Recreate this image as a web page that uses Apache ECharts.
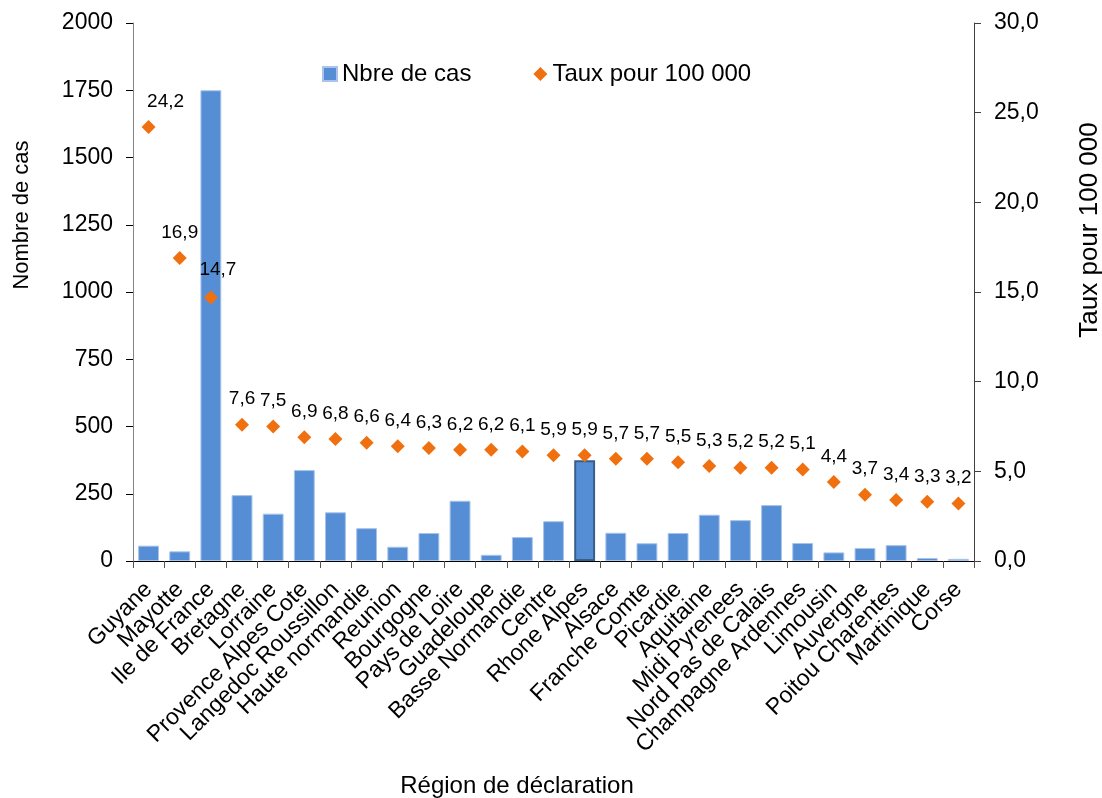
<!DOCTYPE html>
<html>
<head>
<meta charset="utf-8">
<script src="https://cdn.jsdelivr.net/npm/echarts@6/dist/echarts.min.js"></script>
<style>
html,body{margin:0;padding:0;background:#fff;}
#chart{width:1102px;height:798px;}
</style>
</head>
<body>
<div id="chart"></div>
<script>
const categories = ['Guyane','Mayotte','Ile de France','Bretagne','Lorraine','Provence Alpes Cote','Langedoc Roussillon','Haute normandie','Reunion','Bourgogne','Pays de Loire','Guadeloupe','Basse Normandie','Centre','Rhone Alpes','Alsace','Franche Comte','Picardie','Aquitaine','Midi Pyrenees','Nord Pas de Calais','Champagne Ardennes','Limousin','Auvergne','Poitou Charentes','Martinique','Corse'];
const cases = [57,36,1750,245,176,338,181,122,53,104,224,23,89,148,375,105,66,104,172,152,208,67,32,48,59,11,8];
const rates = [24.2,16.9,14.7,7.6,7.5,6.9,6.8,6.6,6.4,6.3,6.2,6.2,6.1,5.9,5.9,5.7,5.7,5.5,5.3,5.2,5.2,5.1,4.4,3.7,3.4,3.3,3.2];
const leftTicks = {min:0, max:2000, interval:250};
const rightTicks = {min:0, max:30, interval:5};
const highlighted = 'Rhone Alpes';

const FONT = '"Liberation Sans", Arial, sans-serif';
const fmt = v => Number(v).toFixed(1).replace('.', ',');

const barData = cases.map((v, i) => categories[i] === highlighted
  ? {value: v, itemStyle: {borderColor: '#3A5E8C', borderWidth: 2}}
  : v);
const rateData = rates.map((v, i) => {
  if (i === 0) return {value: v, label: {offset: [17, 0]}};
  if (i === 2) return {value: v, label: {offset: [7, -2]}};
  return v;
});

const chart = echarts.init(document.getElementById('chart'), null, {renderer: 'canvas'});
chart.setOption({
  animation: false,
  textStyle: {fontFamily: FONT},
  legend: {
    left: 317, top: 57,
    itemWidth: 14, itemHeight: 14, itemGap: 62,
    textStyle: {fontFamily: FONT, fontSize: 24, color: '#000'},
    data: [{name: 'Nbre de cas', icon: 'rect'}, {name: 'Taux pour 100 000', icon: 'diamond'}]
  },
  grid: {left: 133, right: 128, top: 23, bottom: 237, containLabel: false},
  xAxis: {
    type: 'category',
    data: categories,
    axisLine: {lineStyle: {color: '#000', width: 1}},
    axisTick: {show: true, length: 7, lineStyle: {color: '#555'}},
    axisLabel: {rotate: 45, margin: 25, interval: 0, fontFamily: FONT, fontSize: 23, color: '#000'}
  },
  yAxis: [
    {
      type: 'value', position: 'left',
      min: leftTicks.min, max: leftTicks.max, interval: leftTicks.interval,
      splitLine: {show: false},
      axisLine: {show: true, lineStyle: {color: '#868686'}},
      axisTick: {show: true, length: 7, lineStyle: {color: '#000'}},
      axisLabel: {margin: 20, fontFamily: FONT, fontSize: 23, color: '#000', formatter: v => String(v)}
    },
    {
      type: 'value', position: 'right',
      min: rightTicks.min, max: rightTicks.max, interval: rightTicks.interval,
      splitLine: {show: false},
      axisLine: {show: true, lineStyle: {color: '#404040'}},
      axisTick: {show: true, length: 7, lineStyle: {color: '#404040'}},
      axisLabel: {margin: 20, fontFamily: FONT, fontSize: 23, color: '#000', formatter: fmt}
    }
  ],
  series: [
    {
      name: 'Nbre de cas', type: 'bar', yAxisIndex: 0,
      data: barData,
      barCategoryGap: '33%',
      itemStyle: {color: '#558ED5', borderColor: '#A9C4EB', borderWidth: 1}
    },
    {
      name: 'Taux pour 100 000', type: 'scatter', yAxisIndex: 1,
      data: rateData,
      symbol: 'diamond', symbolSize: 14,
      itemStyle: {color: '#F07010', opacity: 1},
      label: {show: true, position: 'top', distance: 9, fontFamily: FONT, fontSize: 19, color: '#000', formatter: p => fmt(p.value)}
    }
  ],
  graphic: [
    {type: 'text', x: 22, y: 215, rotation: Math.PI / 2,
     style: {text: 'Nombre de cas', font: '22px ' + FONT, fill: '#000', align: 'center', verticalAlign: 'middle'}},
    {type: 'text', x: 1090, y: 230, rotation: Math.PI / 2,
     style: {text: 'Taux pour 100 000', font: '26px ' + FONT, fill: '#000', align: 'center', verticalAlign: 'middle'}},
    {type: 'text', x: 517, y: 786,
     style: {text: 'Région de déclaration', font: '24px ' + FONT, fill: '#000', align: 'center', verticalAlign: 'middle'}}
  ]
});
</script>
</body>
</html>
